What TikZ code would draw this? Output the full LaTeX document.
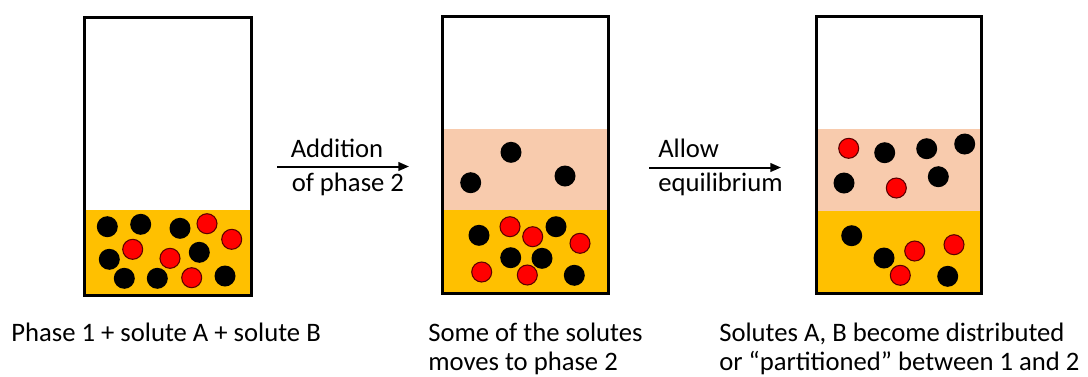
\documentclass[tikz,border=0pt]{standalone}
\usepackage{fontspec}
\setmainfont{Carlito}
\usetikzlibrary{arrows.meta}
\definecolor{gold}{HTML}{FFC000}
\definecolor{peach}{HTML}{F8CBAD}
\definecolor{rimred}{HTML}{5A0000}
\begin{document}
\begin{tikzpicture}[x=0.75pt,y=-0.75pt,
  blk/.style={circle,fill=black,inner sep=0pt,minimum size=15.75pt},
  rd/.style={circle,fill=red,draw=rimred,line width=0.8pt,inner sep=0pt,minimum size=15pt},
  beaker/.style={draw=black,line width=2.25pt},
  lbl/.style={font=\fontsize{20}{24}\selectfont,anchor=base west,inner sep=0pt},
  arr/.style={-{Triangle[length=8pt,width=6.5pt]},line width=1.5pt}]
\useasboundingbox (0,0) rectangle (1088,376);

% beaker 1
\fill[gold] (84.5,210) rectangle (251,295);
\draw[beaker] (84.5,17.5) rectangle (251,295);
% beaker 2
\fill[peach] (442,128.5) rectangle (608,209.5);
\fill[gold] (442,209.5) rectangle (608,293);
\draw[beaker] (442,16) rectangle (608,293);
% beaker 3
\fill[peach] (816,128.5) rectangle (981,210.5);
\fill[gold] (816,210.5) rectangle (981,293);
\draw[beaker] (816,16.5) rectangle (981,293);

% solutes, beaker 1
\foreach \x/\y [count=\i] in {107.3/226.7,140.7/224.3,180/228.3,109.3/259.3,199.3/252.3,124.3/278.3,157.3/278.3,225/276}
  \node[blk] (ka\i) at (\x,\y) {};
\foreach \x/\y [count=\i] in {207/223.7,231.7/239.3,132.7/249.3,170/258.3,191.7/277.7}
  \node[rd] (ra\i) at (\x,\y) {};

% solutes, beaker 2
\foreach \x/\y [count=\i] in {511/152.3,470.7/182.7,565/176,479/235.3,556/226.7,510.7/257.7,542/258.3,574.3/275.3}
  \node[blk] (kb\i) at (\x,\y) {};
\foreach \x/\y [count=\i] in {510/226.7,532.7/236.7,580/243.3,481.7/272,527.3/275}
  \node[rd] (rb\i) at (\x,\y) {};

% solutes, beaker 3
\foreach \x/\y [count=\i] in {884.7/152.7,926.7/148.7,964.7/144,844/183,938.3/176.7,851.7/235.7,884/258,947.7/276.3}
  \node[blk] (kc\i) at (\x,\y) {};
\foreach \x/\y [count=\i] in {848.7/148.3,896.3/188,914.7/251,954/244.7,900.3/275.3}
  \node[rd] (rc\i) at (\x,\y) {};

% arrows
\coordinate (a1s) at (277,166.5);
\coordinate (a1e) at (409,166.5);
\coordinate (a2s) at (649,167.5);
\coordinate (a2e) at (781,167.5);
\draw[arr] (a1s) -- (a1e);
\draw[arr] (a2s) -- (a2e);
\node[lbl] (t1a) at (290.5,157.5) {Addition};
\node[lbl] (t1b) at (291.5,191.5) {of phase 2};
\node[lbl] (t2a) at (658,157) {Allow};
\node[lbl] (t2b) at (658,191) {equilibrium};

% captions
\node[lbl] (c1) at (11,341.5) {Phase 1 + solute A + solute B};
\node[lbl] (c2a) at (428,341.5) {Some of the solutes};
\node[lbl] (c2b) at (428,370) {moves to phase 2};
\node[lbl] (c3a) at (719,341.5) {Solutes A, B become distributed};
\node[lbl] (c3b) at (719,370) {or “partitioned” between 1 and 2};
\end{tikzpicture}
\end{document}
